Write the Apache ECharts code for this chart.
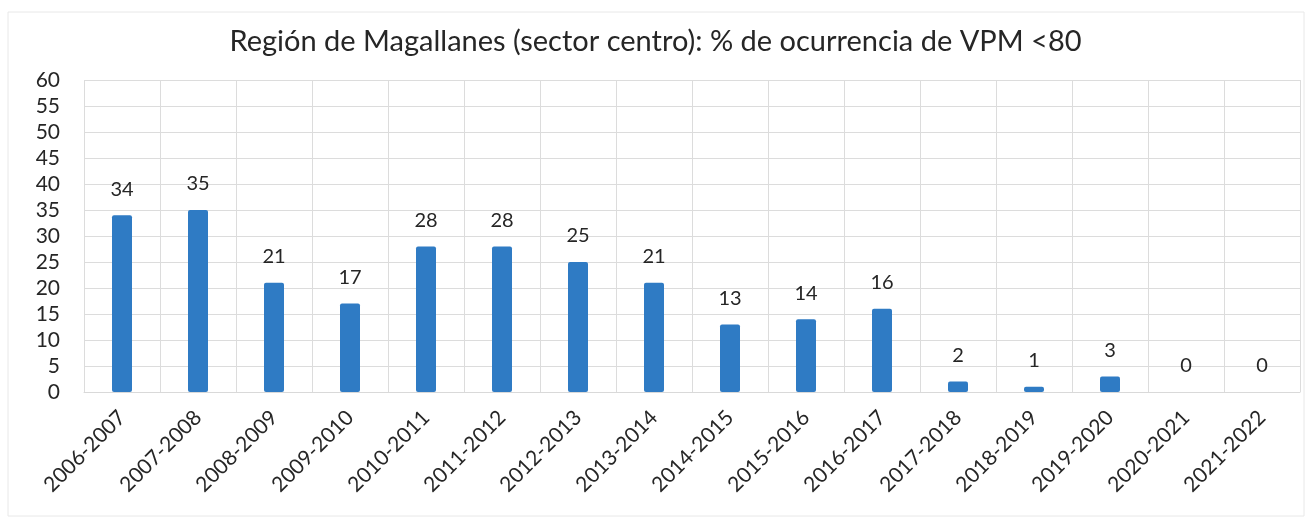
<!DOCTYPE html>
<html>
<head>
<meta charset="utf-8">
<script src="https://cdn.jsdelivr.net/npm/echarts@6/dist/echarts.min.js"></script>
<style>html,body{margin:0;padding:0;background:#fff}#c{width:1311px;height:517px}</style>
</head>
<body>
<div id="c"></div>
<script>
const title = 'Región de Magallanes (sector centro): % de ocurrencia de VPM <80';
const categories = ['2006-2007','2007-2008','2008-2009','2009-2010','2010-2011','2011-2012','2012-2013','2013-2014','2014-2015','2015-2016','2016-2017','2017-2018','2018-2019','2019-2020','2020-2021','2021-2022'];
const values = [34,35,21,17,28,28,25,21,13,14,16,2,1,3,0,0];
const yTicks = {min:0, max:60, interval:5};

const chart = echarts.init(document.getElementById('c'), null, {renderer:'canvas'});
const font = 'Lato, "Open Sans", sans-serif';
chart.setOption({
  backgroundColor:'#ffffff',
  animation:false,
  graphic:[{type:'rect',shape:{x:8,y:12,width:1296,height:504},style:{fill:'none',stroke:'#e8e8e8',lineWidth:1},silent:true}],
  title:{text:title,left:'center',top:22,textStyle:{fontFamily:font,fontSize:29,fontWeight:'normal',color:'#262626'}},
  grid:{left:84,right:11,top:80,bottom:125,containLabel:false},
  xAxis:{type:'category',data:categories,
    axisLine:{show:true,lineStyle:{color:'#d9d9d9'}},axisTick:{show:false},
    splitLine:{show:true,lineStyle:{color:'#dcdcdc',width:1}},
    axisLabel:{rotate:45,fontFamily:font,fontSize:21,color:'#262626',margin:22,interval:0}},
  yAxis:{type:'value',min:yTicks.min,max:yTicks.max,interval:yTicks.interval,
    axisLine:{show:false},axisTick:{show:false},
    splitLine:{lineStyle:{color:'#dcdcdc',width:1}},
    axisLabel:{fontFamily:font,fontSize:21,color:'#262626',margin:24}},
  series:[{type:'bar',data:values,barWidth:20,
    itemStyle:{color:'#2f7bc4',borderRadius:[2,2,2,2]},
    label:{show:true,position:'top',distance:16,fontFamily:font,fontSize:20,color:'#262626'}}]
});
</script>
</body>
</html>
